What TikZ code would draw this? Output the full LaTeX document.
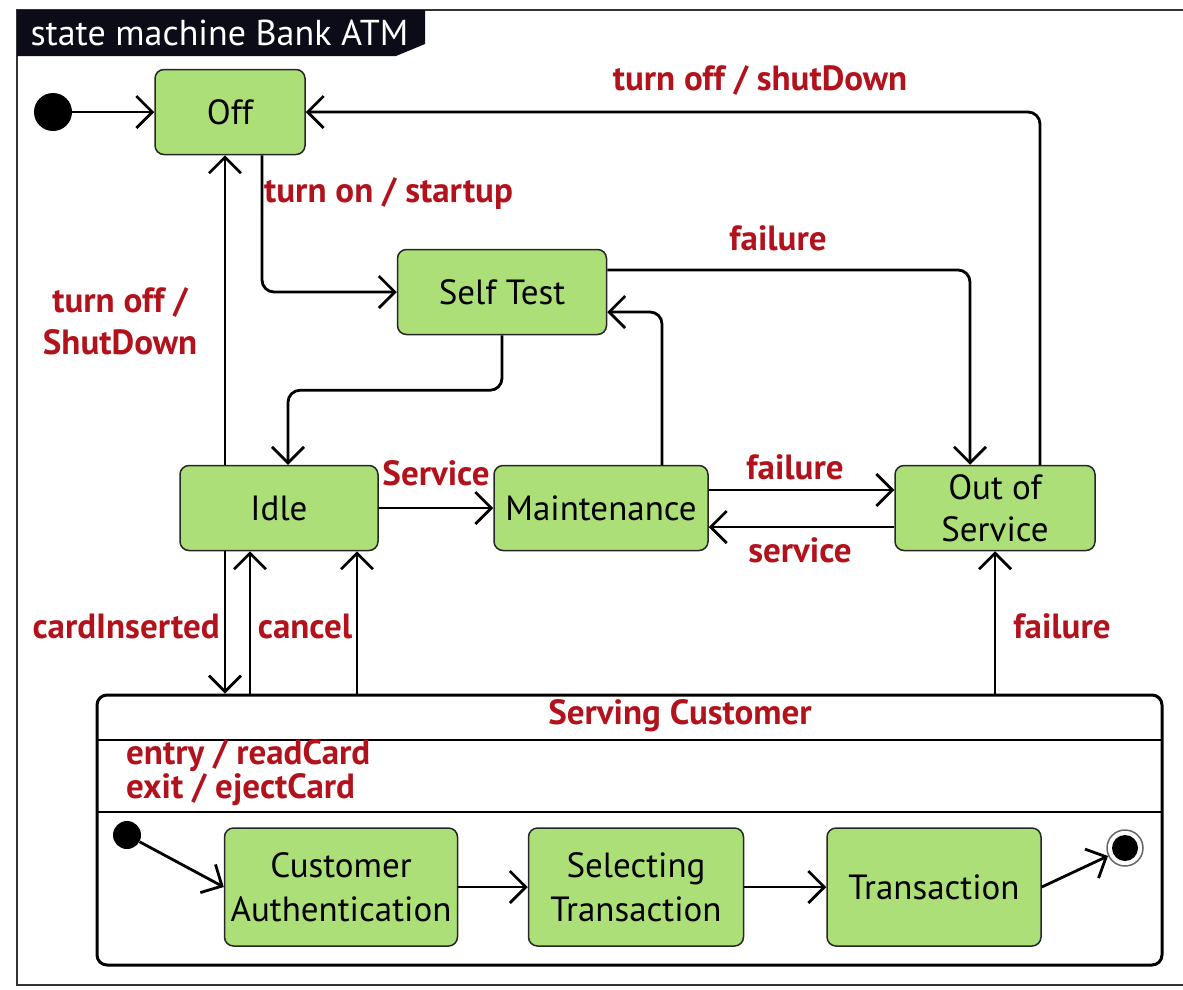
\documentclass[tikz,border=0pt]{standalone}
\usepackage{fontspec}
\setmainfont{PT Sans}
\usetikzlibrary{arrows.meta}
\usetikzlibrary{calc}
\definecolor{stategreen}{RGB}{173,223,120}
\definecolor{labelred}{RGB}{178,18,28}
\definecolor{tabblack}{RGB}{12,12,24}

\begin{document}
\begin{tikzpicture}[x=1pt,y=-1pt,
  state/.style={draw=black!85,line width=1.5pt,fill=stategreen,rounded corners=9pt,align=center,
    font=\fontsize{35}{42}\selectfont,inner sep=0pt},
  move/.style={line width=2.8pt,-{Straight Barb[length=16pt,width=32pt]},rounded corners=12pt},
  lbl/.style={text=labelred,font=\fontsize{35}{34}\selectfont\bfseries,inner sep=0pt,align=center},
  initdot/.style={circle,fill=black,inner sep=0pt,minimum size=#1}]
\useasboundingbox (0,0) rectangle (1183,989);
\draw[line width=2pt,black!80] (17,10) rectangle (1200,985);
\fill[tabblack] (17,10) -- (425,10) -- (425,44) -- (396,56) -- (17,56) -- cycle;
\node[anchor=west,text=white,font=\fontsize{36}{40}\selectfont] (title) at (27,33) {state machine Bank ATM};

\node[initdot=38pt] (start) at (53,112) {};
\node[state,minimum width=150pt,minimum height=85pt] (off) at (230,112) {Off};
\node[state,minimum width=209pt,minimum height=85pt] (selftest) at (502,292) {Self Test};
\node[state,minimum width=198pt,minimum height=85pt] (idle) at (279,508) {Idle};
\node[state,minimum width=214pt,minimum height=85pt] (maint) at (601,508) {Maintenance};
\node[state,minimum width=200pt,minimum height=85pt] (oos) at (995,508) {Out of\\Service};

\node[draw,line width=3pt,rounded corners=10pt,minimum width=1065pt,minimum height=270pt,inner sep=0pt]
  (serving) at (629.5,830) {};
\node[lbl] (servingname) at (680,716) {Serving Customer};
\draw[line width=2.5pt] (97,740) -- (1162,740);
\node[lbl,anchor=west,align=left] (actions) at (126,773) {entry / readCard\\exit / ejectCard};
\draw[line width=2.5pt] (97,812) -- (1162,812);

\node[initdot=28pt] (substart) at (127,835) {};
\node[state,minimum width=233pt,minimum height=118pt] (auth) at (341,887) {Customer\\[2pt]Authentication};
\node[state,minimum width=215pt,minimum height=118pt] (select) at (636,887) {Selecting\\[2pt]Transaction};
\node[state,minimum width=214pt,minimum height=118pt] (transaction) at (934,887) {Transaction};
\node[circle,draw=black!60,line width=1.5pt,fill=white,minimum size=36pt,inner sep=0pt] (finish) at (1125,848) {};
\fill (finish) circle (13pt);

\draw[move] (start) -- (off);
\draw[move] ([xshift=45pt]oos.north) |- (off.east);
\draw[move] ([xshift=32pt]off.south) |- (selftest.west);
\draw[move] ([yshift=22pt]selftest.east) -| ([xshift=-25pt]oos.north);
\draw[move] (selftest.south) -- ++(0,55) -| ([xshift=9pt]idle.north);
\draw[move] ([xshift=61pt]maint.north) |- ([yshift=-20pt]selftest.east);
\draw[move] ([xshift=-54pt]idle.north) -- ([xshift=-5pt]off.south);
\draw[move] (idle) -- (maint);
\draw[move] ([yshift=18pt]maint.east) -- ([yshift=18pt]oos.west);
\draw[move] ([yshift=-19pt]oos.west) -- ([yshift=-19pt]maint.east);
\draw[move] ([xshift=-54pt]idle.south) -- ([xshift=-404.5pt]serving.north);
\draw[move] ([xshift=-379.5pt]serving.north) -- ([xshift=-29pt]idle.south);
\draw[move] ([xshift=-272.5pt]serving.north) -- ([xshift=78pt]idle.south);
\draw[move] ([xshift=365.5pt]serving.north) -- (oos.south);
\draw[move] (substart) -- (auth.west);
\draw[move] (auth) -- (select);
\draw[move] (select) -- (transaction);
\draw[move] (transaction.east) -- (finish);

\node[lbl] (offlabel) at (760,80) {turn off / shutDown};
\node[lbl,anchor=west] (onlabel) at (264,194) {turn on / startup};
\node[lbl] (failtop) at (778,238) {failure};
\node[lbl] (offleft) at (120,321) {turn off /\\[8pt]ShutDown};
\node[lbl] (servlabel) at (436,473) {Service};
\node[lbl] (failmid) at (795,467) {failure};
\node[lbl] (servicelabel) at (800,550) {service};
\node[lbl,anchor=east] (cardlabel) at (220,626) {cardInserted};
\node[lbl] (cancellabel) at (305,626) {cancel};
\node[lbl] (failbottom) at (1062,626) {failure};
\end{tikzpicture}
\end{document}
